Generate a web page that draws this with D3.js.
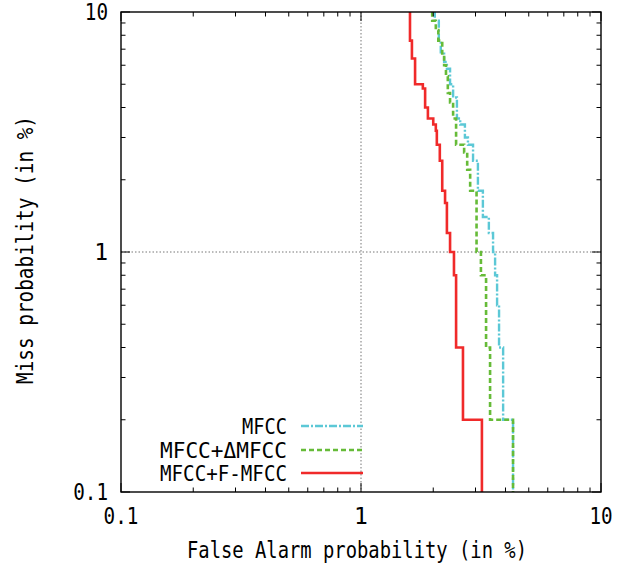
<!DOCTYPE html>
<html><head><meta charset="utf-8">
<script src="https://cdn.jsdelivr.net/npm/d3@7"></script>
<style>html,body{margin:0;padding:0;background:#fff;}svg{display:block;}</style>
</head><body>
<svg id="chart" width="640" height="564"></svg>
<script>
// ---- data (false alarm %, miss % at bottom of each vertical step) ----
const seriesNames = ["MFCC", "MFCC+ΔMFCC", "MFCC+F-MFCC"];
const mfccFA   = [2.03,2.11,2.15,2.22,2.28,2.35,2.42,2.51,2.59,2.71,2.79,2.93,3.07,3.22,3.41,3.55,3.62,3.69,3.76,3.91,4.30];
const mfccMiss = [9.2,7.6,6.8,6.2,5.8,5.0,4.4,3.6,3.4,3.0,2.8,2.4,1.8,1.4,1.2,1.0,0.8,0.6,0.4,0.2,0];
const deltaFA   = [1.98,2.05,2.10,2.18,2.22,2.26,2.30,2.35,2.42,2.49,2.69,2.77,2.85,3.03,3.16,3.32,3.45,4.30];
const deltaMiss = [9.2,8.4,7.6,6.6,6.0,5.4,4.6,4.2,3.6,2.8,2.6,2.2,1.8,1.0,0.8,0.4,0.2,0];
const fmfccFA   = [1.60,1.63,1.68,1.81,1.85,1.90,2.00,2.05,2.07,2.13,2.18,2.24,2.28,2.35,2.44,2.49,2.66,3.19];
const fmfccMiss = [7.6,6.4,5.0,4.8,4.0,3.6,3.4,3.2,2.8,2.4,1.8,1.6,1.2,1.0,0.8,0.4,0.2,0];
const xTickValues = [0.1, 1, 10];
const xTickLabels = ["0.1", "1", "10"];
const yTickValues = [0.1, 1, 10];
const yTickLabels = ["0.1", "1", "10"];
const xTitle = "False Alarm probability (in %)";
const yTitle = "Miss probability (in %)";

const colors = ["#5cc8d6", "#66bb38", "#f02a2a"];
const dashes = ["8,2,2,2", "5,3", null];
const widths = [2.4, 2.6, 2.6];

const svg = d3.select("#chart");
const L = 121, R = 601, T = 12, B = 492;
const x = d3.scaleLog().domain([0.1, 10]).range([L, R]);
const y = d3.scaleLog().domain([0.1, 10]).range([B, T]);
const FONT = "'DejaVu Sans Mono', 'Liberation Mono', monospace";

// grid (major only at 1)
const g = svg.append("g");
g.append("line").attr("x1", x(1)).attr("x2", x(1)).attr("y1", T).attr("y2", B)
  .attr("stroke", "#777").attr("stroke-width", 1).attr("stroke-dasharray", "1.5,2");
g.append("line").attr("x1", L).attr("x2", R).attr("y1", y(1)).attr("y2", y(1))
  .attr("stroke", "#777").attr("stroke-width", 1).attr("stroke-dasharray", "1.5,2");

// clip
svg.append("clipPath").attr("id", "clip").append("rect")
  .attr("x", L).attr("y", T).attr("width", R - L).attr("height", B - T);

function stepPoints(fa, miss) {
  const pts = [];
  let prev = 20;
  fa.forEach((f, i) => {
    pts.push([f, prev]);
    pts.push([f, miss[i]]);
    prev = miss[i];
  });
  return pts;
}
const line = d3.line()
  .x(d => x(d[0]))
  .y(d => d[1] > 0 ? y(d[1]) : B + 10);

const series = [[mfccFA, mfccMiss], [deltaFA, deltaMiss], [fmfccFA, fmfccMiss]];
const curves = svg.append("g").attr("clip-path", "url(#clip)");
series.forEach((s, i) => {
  curves.append("path").datum(stepPoints(s[0], s[1]))
    .attr("d", line).attr("fill", "none")
    .attr("stroke", colors[i]).attr("stroke-width", widths[i])
    .attr("stroke-dasharray", dashes[i]);
});

// frame
svg.append("rect").attr("x", L).attr("y", T).attr("width", R - L).attr("height", B - T)
  .attr("fill", "none").attr("stroke", "#000").attr("stroke-width", 1.4);

// ticks (inward, all sides)
const allTicks = [];
[0.1, 1].forEach(dec => { for (let k = 1; k <= 9; k++) allTicks.push(dec * k); });
allTicks.push(10);
const tk = svg.append("g").attr("stroke", "#000").attr("stroke-width", 1);
allTicks.forEach(v => {
  const major = Math.abs(Math.log10(v) - Math.round(Math.log10(v))) < 1e-9;
  const len = major ? 9 : 4.5;
  tk.append("line").attr("x1", x(v)).attr("x2", x(v)).attr("y1", B).attr("y2", B - len);
  tk.append("line").attr("x1", x(v)).attr("x2", x(v)).attr("y1", T).attr("y2", T + len);
  tk.append("line").attr("y1", y(v)).attr("y2", y(v)).attr("x1", L).attr("x2", L + len);
  tk.append("line").attr("y1", y(v)).attr("y2", y(v)).attr("x1", R).attr("x2", R - len);
});

function txt(sel, s, w, fs) {
  sel.text(s).attr("font-family", FONT).attr("font-size", fs || 23).attr("fill", "#000");
  if (w) sel.attr("textLength", w).attr("lengthAdjust", "spacingAndGlyphs");
  return sel;
}
// tick labels
xTickValues.forEach((v, i) => {
  const s = xTickLabels[i];
  txt(svg.append("text").attr("x", x(v)).attr("y", 524).attr("text-anchor", "middle"), s, s.length > 1 ? s.length * 11.6 : null);
});
yTickValues.forEach((v, i) => {
  const s = yTickLabels[i];
  txt(svg.append("text").attr("x", 108).attr("y", y(v) + 8).attr("text-anchor", "end"), s, s.length > 1 ? s.length * 11.6 : null);
});
// titles
txt(svg.append("text").attr("x", 357).attr("y", 558).attr("text-anchor", "middle"), xTitle, 340);
txt(svg.append("text").attr("transform", "translate(33,250) rotate(-90)").attr("text-anchor", "middle"), yTitle, 268);

// legend
const legW = [45, 127, 127];
const legY = [426, 450, 473];
seriesNames.forEach((n, i) => {
  txt(svg.append("text").attr("x", 287).attr("y", legY[i] + 7.5).attr("text-anchor", "end"), n, legW[i], 21);
  svg.append("line").attr("x1", 301).attr("x2", 363).attr("y1", legY[i]).attr("y2", legY[i])
    .attr("stroke", colors[i]).attr("stroke-width", widths[i]).attr("stroke-dasharray", dashes[i]);
});
</script>
</body></html>
